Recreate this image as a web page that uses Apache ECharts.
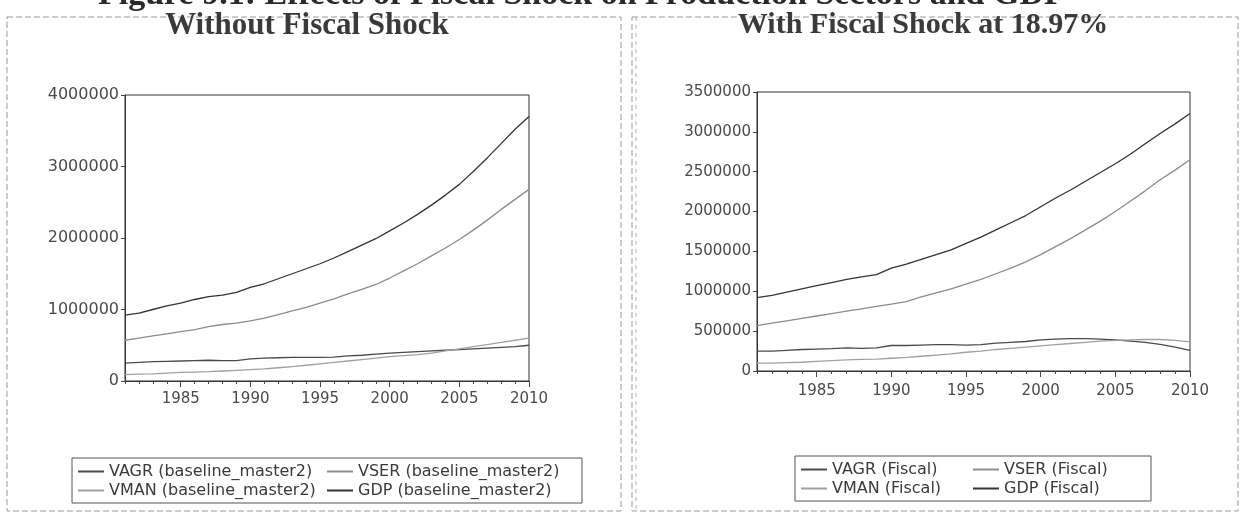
<!DOCTYPE html>
<html>
<head>
<meta charset="utf-8">
<script src="https://cdn.jsdelivr.net/npm/echarts@6/dist/echarts.min.js"></script>
<style>
html,body{margin:0;padding:0;background:#fff;}
#chart{width:1240px;height:513px;}
</style>
</head>
<body>
<div id="chart"></div>
<script>
const years = ['1981','1982','1983','1984','1985','1986','1987','1988','1989','1990','1991','1992','1993','1994','1995','1996','1997','1998','1999','2000','2001','2002','2003','2004','2005','2006','2007','2008','2009','2010'];

// Without fiscal shock (baseline_master2)
const baseVAGR = [250000,260000,270000,275000,280000,285000,290000,285000,285000,310000,320000,325000,330000,330000,330000,335000,350000,360000,375000,390000,400000,410000,420000,430000,440000,450000,460000,470000,480000,500000];
const baseVSER = [570000,600000,630000,660000,690000,720000,760000,790000,810000,840000,880000,930000,980000,1030000,1090000,1150000,1220000,1280000,1350000,1440000,1540000,1640000,1750000,1860000,1980000,2110000,2250000,2400000,2540000,2680000];
const baseVMAN = [90000,95000,100000,110000,120000,125000,130000,140000,150000,160000,170000,185000,200000,220000,240000,260000,280000,300000,320000,340000,355000,370000,390000,420000,450000,480000,510000,540000,570000,600000];
const baseGDP = [920000,950000,1000000,1050000,1090000,1140000,1180000,1200000,1240000,1310000,1360000,1430000,1500000,1570000,1640000,1720000,1810000,1900000,1990000,2100000,2210000,2330000,2460000,2600000,2750000,2930000,3120000,3320000,3520000,3700000];

// With fiscal shock at 18.97%
const fisVAGR = [250000,250000,260000,270000,275000,280000,290000,285000,290000,320000,320000,325000,330000,330000,325000,330000,350000,360000,370000,390000,400000,405000,405000,400000,390000,375000,360000,335000,300000,260000];
const fisVSER = [570000,600000,630000,660000,690000,720000,750000,780000,810000,840000,870000,930000,980000,1030000,1090000,1150000,1220000,1290000,1370000,1460000,1560000,1660000,1770000,1880000,2000000,2130000,2260000,2400000,2520000,2650000];
const fisVMAN = [100000,100000,105000,110000,120000,130000,140000,145000,150000,160000,170000,185000,200000,215000,235000,250000,270000,285000,300000,315000,330000,345000,360000,375000,385000,390000,395000,395000,385000,365000];
const fisGDP = [920000,950000,990000,1030000,1070000,1110000,1150000,1180000,1210000,1290000,1340000,1400000,1460000,1520000,1600000,1680000,1770000,1860000,1950000,2060000,2170000,2270000,2380000,2490000,2600000,2720000,2850000,2980000,3100000,3230000];

const leftNames = ['VAGR (baseline_master2)','VSER (baseline_master2)','VMAN (baseline_master2)','GDP (baseline_master2)'];
const rightNames = ['VAGR (Fiscal)','VSER (Fiscal)','VMAN (Fiscal)','GDP (Fiscal)'];
const leftTicks = {min:0, max:4000000, interval:1000000};
const rightTicks = {min:0, max:3500000, interval:500000};

const colors = {VAGR:'#4a4a4a', VSER:'#8c8c8c', VMAN:'#a0a0a0', GDP:'#333333'};
const lineColors = [colors.VAGR, colors.VSER, colors.VMAN, colors.GDP];

const sansFont = 'DejaVu Sans';
const labelColor = '#4a4a4a';

function xAxes(gridIndex, margin){
  return [
    {
      type:'category', gridIndex, data:years, boundaryGap:false, position:'bottom',
      axisLine:{show:true, lineStyle:{color:'#333', width:1}},
      axisTick:{show:true, interval:0, length:3, lineStyle:{color:'#444'}},
      axisLabel:{interval:(i,v)=>(+v)%5===0, color:labelColor, fontFamily:sansFont, fontSize:15, margin},
      splitLine:{show:false}
    },
    {
      type:'category', gridIndex, data:years, boundaryGap:false, position:'bottom',
      axisLine:{show:false},
      axisTick:{show:true, interval:(i,v)=>(+v)%5===0, length:6, lineStyle:{color:'#444'}},
      axisLabel:{show:false},
      splitLine:{show:false}
    }
  ];
}
function yAxis(gridIndex, t, fs){
  return {
    type:'value', gridIndex, min:t.min, max:t.max, interval:t.interval,
    axisLine:{show:true, lineStyle:{color:'#333'}},
    axisTick:{show:true, length:4, lineStyle:{color:'#444'}},
    axisLabel:{color:labelColor, fontFamily:sansFont, fontSize:fs, margin:6, formatter:v=>String(v)},
    splitLine:{show:false}
  };
}
function mkSeries(names, arrays, xi, yi){
  return names.map((n,k)=>({
    name:n, type:'line', xAxisIndex:xi, yAxisIndex:yi, data:arrays[k],
    symbol:'none', showSymbol:false, smooth:false, animation:false,
    lineStyle:{color:lineColors[k], width:1.3}, itemStyle:{color:lineColors[k]}
  }));
}
function legend(names, left, top, width, textW){
  return {
    data:names, left, top, width, orient:'horizontal',
    itemWidth:26, itemHeight:2, itemGap:0,
    padding:[4,6,3,6], borderColor:'#555', borderWidth:1,
    textStyle:{color:'#3a3a3a', fontFamily:sansFont, fontSize:16, lineHeight:19, width:textW},
    selectedMode:false, icon:'rect'
  };
}

const chart = echarts.init(document.getElementById('chart'), null, {renderer:'canvas'});
chart.setOption({
  backgroundColor:'#ffffff',
  animation:false,
  title:[
    {text:'Without Fiscal Shock', left:302, top:5, textAlign:'center',
     textStyle:{fontFamily:'Liberation Serif', fontWeight:'bold', fontSize:31, color:'#3a3a3a'}},
    {text:'With Fiscal Shock at 18.97%', left:918, top:5, textAlign:'center',
     textStyle:{fontFamily:'Liberation Serif', fontWeight:'bold', fontSize:30, color:'#3a3a3a'}}
  ],
  grid:[
    {left:125, right:1240-529, top:95, bottom:513-381, show:true, borderColor:'#333', borderWidth:1, backgroundColor:'transparent'},
    {left:757, right:1240-1190, top:92, bottom:513-371, show:true, borderColor:'#333', borderWidth:1, backgroundColor:'transparent'}
  ],
  xAxis:[...xAxes(0, 11), ...xAxes(1, 13)],
  yAxis:[yAxis(0,leftTicks,16), yAxis(1,rightTicks,15)],
  legend:[legend(leftNames, 72, 458, 520, 218), legend(rightNames, 795, 456, 370, 141)],
  series:[
    ...mkSeries(leftNames, [baseVAGR, baseVSER, baseVMAN, baseGDP], 0, 0),
    ...mkSeries(rightNames, [fisVAGR, fisVSER, fisVMAN, fisGDP], 2, 1)
  ],
  graphic:[
    {type:'text', left:98, top:-22, style:{text:'Figure 9.1: Effects of Fiscal Shock on Production Sectors and GDP', font:'bold 34px "Liberation Serif"', fill:'#2a2a2a'}, silent:true},
    {type:'rect', shape:{x:7, y:17, width:614, height:494}, style:{fill:'none', stroke:'#9a9a9a', lineWidth:1, lineDash:[6,3]}, silent:true},
    {type:'rect', shape:{x:632, y:17, width:606, height:494}, style:{fill:'none', stroke:'#9a9a9a', lineWidth:1, lineDash:[6,3]}, silent:true},
    {type:'line', shape:{x1:636, y1:17, x2:636, y2:511}, style:{stroke:'#b0b0b0', lineWidth:1, lineDash:[4,4]}, silent:true}
  ]
});
</script>
</body>
</html>
